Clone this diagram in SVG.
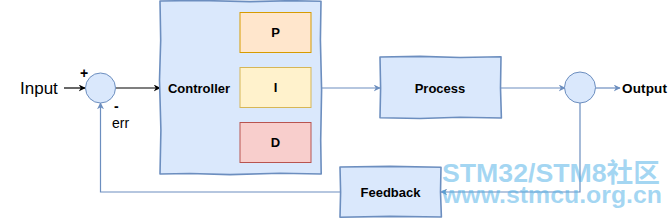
<svg xmlns="http://www.w3.org/2000/svg" width="671" height="219" viewBox="0 0 671 219">
<defs>
<marker id="ab" viewBox="0 0 10 10" refX="9" refY="5" markerWidth="7" markerHeight="7" orient="auto" markerUnits="userSpaceOnUse"><path d="M0,0 L10,5 L0,10 L3,5 Z" fill="#000"/></marker>
<marker id="au" viewBox="0 0 10 10" refX="9" refY="5" markerWidth="7" markerHeight="7" orient="auto" markerUnits="userSpaceOnUse"><path d="M0,0 L10,5 L0,10 L3,5 Z" fill="#6c8ebf"/></marker>
<style>
.blk{fill:#dae8fc;stroke:#6c8ebf;stroke-width:1.6;stroke-linejoin:round}
.sum{fill:#dae8fc;stroke:#6c8ebf;stroke-width:1}
.lbl{font-family:"Liberation Sans",Arial,sans-serif;font-size:13px;font-weight:bold;fill:#000;text-anchor:middle}
.txt{font-family:"Liberation Sans",Arial,sans-serif;fill:#000}
.cb{fill:none;stroke:#000;stroke-width:1.2}
.cu{fill:none;stroke:#6c8ebf;stroke-width:1.2}
.wm{font-family:"Liberation Sans","Noto Sans CJK SC",sans-serif;font-weight:bold;fill:#4aaee6;fill-opacity:0.5}
</style>
</defs>
<g id="connectors">
<path class="cb" d="M64,88 L85,88" marker-end="url(#ab)"/>
<path class="cb" d="M116,88 L160,88" marker-end="url(#ab)"/>
<path class="cu" d="M321,88 L380,88" marker-end="url(#au)"/>
<path class="cu" d="M501,88 L565,88" marker-end="url(#au)"/>
<path class="cu" d="M595,88 L620,88" marker-end="url(#au)"/>
<path class="cu" d="M580,103 L580,192 L441,192" marker-end="url(#au)"/>
<path class="cu" d="M340,192 L100.5,192 L100.5,103" marker-end="url(#au)"/>
</g>
<g id="input"><text class="txt" x="20" y="94" font-size="17">Input</text></g>
<g id="sum1">
<circle class="sum" cx="100.5" cy="88" r="15"/>
<text class="txt" x="80" y="78" font-size="14" font-weight="bold">+</text>
<text class="txt" x="114" y="111" font-size="14" font-weight="bold">-</text>
<text class="txt" x="112" y="128" font-size="14">err</text>
</g>
<g id="controller">
<path class="blk" d="M160,1 L200,0.5 L250,1.6 L290,0.7 L321,1.2 L320.4,40 L321.6,90 L320.7,140 L321.2,174 L280,173.3 L230,174.6 L190,173.5 L160,174 L160.9,130 L159.5,80 L160.7,40 Z"/>
<text class="lbl" x="199" y="93">Controller</text>
</g>
<g id="P"><rect x="240" y="12.5" width="71" height="40" fill="#ffe6cc" stroke="#d79b00"/><text class="lbl" x="275.5" y="37">P</text></g>
<g id="I"><rect x="240" y="67.5" width="71" height="40" fill="#fff2cc" stroke="#d6b656"/><text class="lbl" x="275.5" y="92">I</text></g>
<g id="D"><rect x="240" y="122.5" width="71" height="40" fill="#f8cecc" stroke="#b85450"/><text class="lbl" x="275.5" y="147">D</text></g>
<g id="process">
<path class="blk" d="M380,57 L420,56.4 L460,57.5 L501,56.8 L500.5,88 L501.4,118 L460,117.3 L420,118.5 L380,117.8 L380.6,88 Z"/>
<text class="lbl" x="440" y="93">Process</text>
</g>
<g id="sum2"><circle class="sum" cx="580" cy="87.5" r="15.5"/></g>
<g id="output"><text class="txt" x="622" y="92.5" font-size="13.5" font-weight="bold" textLength="45">Output</text></g>
<g id="feedback">
<path class="blk" d="M340,167 L390,166.4 L441,167.3 L440.5,192 L441.4,217 L390,216.4 L340,217.2 L340.6,192 Z"/>
<text class="lbl" x="390.5" y="197">Feedback</text>
</g>
<g id="watermark">
<text class="wm" x="442" y="182" font-size="26" textLength="218" lengthAdjust="spacingAndGlyphs">STM32/STM8社区</text>
<text class="wm" x="442" y="203" font-size="23" textLength="220" lengthAdjust="spacingAndGlyphs">www.stmcu.org.cn</text>
</g>
</svg>
